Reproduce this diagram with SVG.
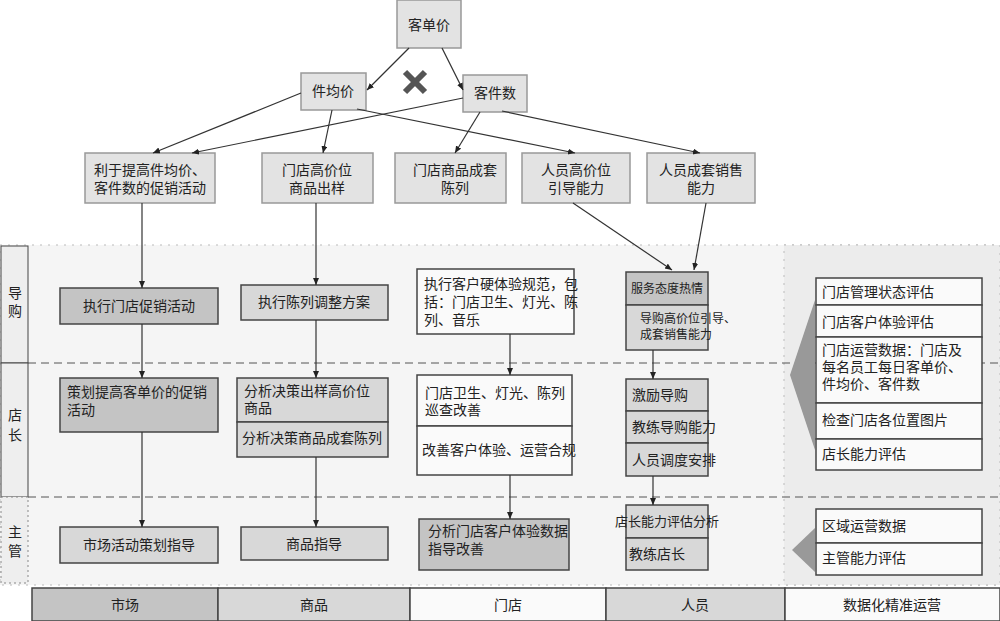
<svg xmlns="http://www.w3.org/2000/svg" width="1000" height="621" viewBox="0 0 1000 621">
<style>
text{font-family:"Liberation Serif","Noto Sans CJK SC",serif;font-size:14px;fill:#222}
.t{fill:#e3e3e3;stroke:#999;stroke-width:1.5}
.d{fill:#c4c4c4;stroke:#444;stroke-width:1.5}
.g{fill:#d8d8d8;stroke:#444;stroke-width:1.5}
.w{fill:#fafafa;stroke:#444;stroke-width:1.5}
.c line{stroke:#333;stroke-width:1.2;marker-end:url(#a)}
.m{text-anchor:middle}
</style>
<defs><marker id="a" markerWidth="8" markerHeight="8" refX="7" refY="3" orient="auto" markerUnits="userSpaceOnUse"><path d="M0,0 L7,3 L0,6 z" fill="#222"/></marker></defs>
<rect width="1000" height="621" fill="#fff"/>
<rect x="0" y="245" width="1000" height="340" fill="#f5f5f5" stroke="#bbb" stroke-dasharray="2,6"/>
<rect x="784" y="245" width="216" height="340" fill="#ececec" stroke="#bbb" stroke-dasharray="2,6"/>
<g id="lanes">
<rect x="1" y="246" width="27" height="117" fill="#eee" stroke="#444"/>
<rect x="1" y="363" width="27" height="134" fill="#eee" stroke="#444"/>
<rect x="1" y="497" width="27" height="86" fill="#eee" stroke="#888" stroke-dasharray="2,3"/>
<text x="15" y="298" class="m">导</text><text x="15" y="316" class="m">购</text>
<text x="15" y="420" class="m">店</text><text x="15" y="440" class="m">长</text>
<text x="15" y="537" class="m">主</text><text x="15" y="556" class="m">管</text>
<line x1="28" y1="363" x2="1000" y2="363" stroke="#555" stroke-dasharray="8,5"/>
<line x1="28" y1="497" x2="1000" y2="497" stroke="#555" stroke-dasharray="8,5"/>
</g>
<g id="top">
<rect x="397" y="0" width="64" height="48" class="t"/><text x="429" y="30" class="m">客单价</text>
<rect x="301" y="73" width="65" height="37" class="t"/><text x="333" y="96" class="m">件均价</text>
<rect x="463" y="75" width="64" height="37" class="t"/><text x="495" y="98" class="m">客件数</text>
<path d="M405,72 L425,92 M425,72 L405,92" stroke="#555" stroke-width="6"/>
<rect x="85" y="153" width="130" height="50" class="t"/><text x="150" y="175" class="m">利于提高件均价、</text><text x="150" y="193" class="m">客件数的促销活动</text>
<rect x="262" y="153" width="111" height="50" class="t"/><text x="317" y="175" class="m">门店高价位</text><text x="317" y="193" class="m">商品出样</text>
<rect x="395" y="153" width="111" height="50" class="t"/><text x="455" y="175" class="m">门店商品成套</text><text x="455" y="193" class="m">陈列</text>
<rect x="522" y="153" width="108" height="50" class="t"/><text x="576" y="175" class="m">人员高价位</text><text x="576" y="193" class="m">引导能力</text>
<rect x="647" y="153" width="108" height="50" class="t"/><text x="701" y="175" class="m">人员成套销售</text><text x="701" y="193" class="m">能力</text>
</g>
<g id="n1"><rect x="60" y="288" width="158" height="36" class="d"/><text x="139" y="311" class="m">执行门店促销活动</text></g>
<g id="n2"><rect x="241" y="285" width="147" height="35" class="g"/><text x="314" y="307" class="m">执行陈列调整方案</text></g>
<g id="n3"><rect x="417" y="269" width="157" height="65" class="w"/><text x="424" y="289">执行客户硬体验规范，包</text><text x="424" y="307">括：门店卫生、灯光、陈</text><text x="424" y="325">列、音乐</text></g>
<g id="n4"><rect x="626" y="272" width="82" height="33" class="d"/><rect x="626" y="305" width="82" height="45" class="g"/><text x="667" y="293" class="m" style="font-size:12px">服务态度热情</text><text x="640" y="323" style="font-size:12px">导购高价位引导、</text><text x="640" y="339" style="font-size:12px">成套销售能力</text></g>
<g id="n5"><rect x="60" y="378" width="158" height="54" class="d"/><text x="67" y="397">策划提高客单价的促销</text><text x="67" y="415">活动</text></g>
<g id="n6"><rect x="237" y="378" width="151" height="44" class="g"/><rect x="237" y="422" width="151" height="35" class="g"/><text x="244" y="396">分析决策出样高价位</text><text x="244" y="413">商品</text><text x="242" y="443">分析决策商品成套陈列</text></g>
<g id="n7"><rect x="417" y="375" width="155" height="51" class="w"/><rect x="417" y="426" width="155" height="49" class="w"/><text x="425" y="398">门店卫生、灯光、陈列</text><text x="425" y="415">巡查改善</text><text x="422" y="455">改善客户体验、运营合规</text></g>
<g id="n8"><rect x="626" y="379" width="82" height="32" class="g"/><rect x="626" y="411" width="82" height="32" class="g"/><rect x="626" y="443" width="82" height="33" class="g"/><text x="632" y="400">激励导购</text><text x="632" y="432">教练导购能力</text><text x="632" y="465">人员调度安排</text></g>
<g id="n9"><rect x="60" y="527" width="158" height="36" class="g"/><text x="139" y="550" class="m">市场活动策划指导</text></g>
<g id="n10"><rect x="241" y="527" width="147" height="33" class="g"/><text x="314" y="549" class="m">商品指导</text></g>
<g id="n11"><rect x="419" y="519" width="150" height="51" class="d"/><text x="428" y="536">分析门店客户体验数据</text><text x="428" y="554">指导改善</text></g>
<g id="n12"><rect x="626" y="505" width="82" height="33" class="g"/><rect x="626" y="538" width="82" height="32" class="g"/><text x="667" y="526" class="m" style="font-size:13px">店长能力评估分析</text><text x="629" y="559">教练店长</text></g>
<g id="r1">
<path d="M815,300 L815,450 L790,375 Z" fill="#999"/>
<rect x="816" y="278" width="166" height="27" class="w"/><rect x="816" y="305" width="166" height="32" class="w"/><rect x="816" y="337" width="166" height="66" class="w"/><rect x="816" y="403" width="166" height="36" class="w"/><rect x="816" y="439" width="166" height="31" class="w"/>
<text x="822" y="297">门店管理状态评估</text><text x="822" y="327">门店客户体验评估</text><text x="822" y="355">门店运营数据：门店及</text><text x="822" y="372">每名员工每日客单价、</text><text x="822" y="389">件均价、客件数</text><text x="822" y="425">检查门店各位置图片</text><text x="822" y="459">店长能力评估</text>
</g>
<g id="r2">
<path d="M815,528 L815,572 L792,550 Z" fill="#999"/>
<rect x="816" y="509" width="166" height="34" class="w"/><rect x="816" y="543" width="166" height="32" class="w"/>
<text x="822" y="531">区域运营数据</text><text x="822" y="563">主管能力评估</text>
</g>
<g id="bottom">
<rect x="32" y="588" width="186" height="33" class="d"/><text x="125" y="610" class="m">市场</text>
<rect x="218" y="588" width="192" height="33" class="g"/><text x="314" y="610" class="m">商品</text>
<rect x="410" y="588" width="196" height="33" class="w"/><text x="508" y="610" class="m">门店</text>
<rect x="606" y="588" width="179" height="33" class="g"/><text x="695" y="610" class="m">人员</text>
<rect x="785" y="588" width="215" height="33" class="w"/><text x="892" y="610" class="m">数据化精准运营</text>
</g>
<g class="c" id="connectors">
<line x1="409" y1="48" x2="367" y2="90"/>
<line x1="442" y1="48" x2="463" y2="90"/>
<line x1="301" y1="93" x2="153" y2="153"/>
<line x1="463" y1="98" x2="192" y2="153"/>
<line x1="332" y1="110" x2="323" y2="153"/>
<line x1="357" y1="109" x2="575" y2="153"/>
<line x1="480" y1="112" x2="455" y2="153"/>
<line x1="502" y1="111" x2="700" y2="153"/>
<line x1="573" y1="203" x2="672" y2="270"/>
<line x1="706" y1="203" x2="694" y2="270"/>
<line x1="142" y1="203" x2="142" y2="288"/>
<line x1="316" y1="203" x2="316" y2="285"/>
<line x1="142" y1="324" x2="142" y2="378"/>
<line x1="316" y1="320" x2="316" y2="378"/>
<line x1="510" y1="334" x2="510" y2="375"/>
<line x1="653" y1="350" x2="653" y2="379"/>
<line x1="142" y1="432" x2="142" y2="527"/>
<line x1="316" y1="457" x2="316" y2="527"/>
<line x1="510" y1="475" x2="510" y2="519"/>
<line x1="653" y1="476" x2="653" y2="505"/>
</g>
</svg>
